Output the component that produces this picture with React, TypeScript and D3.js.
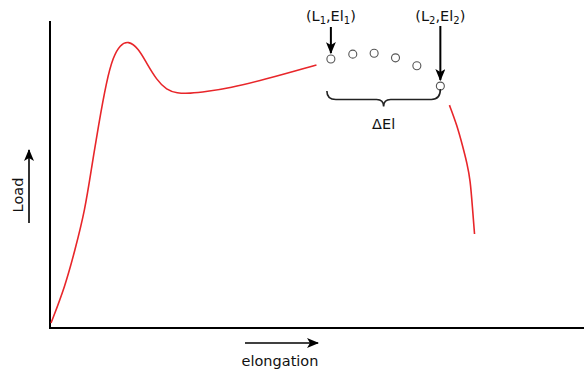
import React from "react";
import * as d3 from "d3";

const curveElong = [0.19, 0.19, 2.81, 4.68, 6.55, 7.81, 9.04, 10.62, 11.85, 13.11, 14.66, 16.54, 18.11, 19.98, 21.85, 23.73, 26.2, 29.3, 33.7, 39.9, 49.9, 49.9];
const curveLoad = [1.63, 1.63, 13.45, 25.4, 38.4, 52.5, 65.6, 80.8, 88.4, 92.2, 93.6, 91.1, 86.2, 80.8, 77.5, 76.5, 76.4, 77.0, 78.2, 80.8, 85.7, 85.7];
const pointElong = [52.6, 56.7, 60.7, 64.7, 68.7, 73.1];
const pointLoad = [87.6, 89.2, 89.5, 88.0, 85.4, 78.8];
const fallElong = [74.8, 74.8, 76.2, 77.3, 78.1, 78.7, 79.1, 79.5, 79.5];
const fallLoad = [72.6, 72.6, 66.1, 59.1, 53.6, 48.2, 39.5, 30.6, 30.6];

const W = 584, H = 371;
const x = d3.scaleLinear().domain([0, 100]).range([50, 584]);
const y = d3.scaleLinear().domain([0, 100]).range([328, 21]);

export default function App() {
  const lineGen = d3.line<[number, number]>().x(d => x(d[0])).y(d => y(d[1])).curve(d3.curveBasis);
  const main = lineGen(curveElong.map((e, i) => [e, curveLoad[i]]))!;
  const fall = lineGen(fallElong.map((e, i) => [e, fallLoad[i]]))!;
  const p1x = x(pointElong[0]);
  const p1y = y(pointLoad[0]);
  const p2x = x(pointElong[pointElong.length - 1]);
  const p2y = y(pointLoad[pointLoad.length - 1]);
  const bl = p1x - 4, br = p2x;
  const bm = (bl + br) / 2;
  const bt = 91, bb = 99.5, bn = 106.5;
  const brace = `M${bl},${bt} Q${bl},${bb} ${bl + 9},${bb} L${bm - 7},${bb} Q${bm},${bb} ${bm},${bn} Q${bm},${bb} ${bm + 7},${bb} L${br - 9},${bb} Q${br},${bb} ${br},${bt - 2}`;
  const font = "'DejaVu Sans', sans-serif";
  const fs = 14.5;
  return (
    <svg width={W} height={H} style={{ position: "absolute", left: 0, top: 0 }} fontFamily={font}>
      <defs>
        <marker id="ah" viewBox="0 0 12 10" refX="11" refY="5" markerWidth="12" markerHeight="10" markerUnits="userSpaceOnUse" orient="auto">
          <path d="M0,0 L12,5 L0,10 L3,5 Z" fill="#000" />
        </marker>
      </defs>
      <rect width={W} height={H} fill="#fff" />
      <line x1={x(0)} y1={y(100)} x2={x(0)} y2={y(0) + 1} stroke="#000" strokeWidth={2} />
      <line x1={x(0) - 1} y1={y(0)} x2={x(100)} y2={y(0)} stroke="#000" strokeWidth={2} />
      <path d={main} fill="none" stroke="#e8262a" strokeWidth={1.6} />
      <path d={fall} fill="none" stroke="#e8262a" strokeWidth={1.6} />
      {pointElong.map((e, i) => (
        <circle key={i} cx={x(e)} cy={y(pointLoad[i])} r={4} fill="#fff" stroke="#555" strokeWidth={1.1} />
      ))}
      <line x1={p1x} y1={27} x2={p1x} y2={p1y - 6} stroke="#000" strokeWidth={2} markerEnd="url(#ah)" />
      <line x1={p2x} y1={26} x2={p2x} y2={p2y - 6} stroke="#000" strokeWidth={2} markerEnd="url(#ah)" />
      <text x={p1x} y={21} textAnchor="middle" fontSize={fs} fill="#111">
        (L<tspan fontSize={10} dy={3}>1</tspan><tspan dy={-3}>,El</tspan><tspan fontSize={10} dy={3}>1</tspan><tspan dy={-3}>)</tspan>
      </text>
      <text x={p2x} y={21} textAnchor="middle" fontSize={fs} fill="#111">
        (L<tspan fontSize={10} dy={3}>2</tspan><tspan dy={-3}>,El</tspan><tspan fontSize={10} dy={3}>2</tspan><tspan dy={-3}>)</tspan>
      </text>
      <path d={brace} fill="none" stroke="#222" strokeWidth={1.6} />
      <text x={bm} y={129} textAnchor="middle" fontSize={fs} fill="#111">ΔEl</text>
      <line x1={29} y1={223} x2={29} y2={150} stroke="#000" strokeWidth={1.6} markerEnd="url(#ah)" />
      <text transform={`translate(23,195) rotate(-90)`} textAnchor="middle" fontSize={fs} fill="#111">Load</text>
      <line x1={245} y1={343} x2={318} y2={343} stroke="#000" strokeWidth={1.6} markerEnd="url(#ah)" />
      <text x={280} y={366} textAnchor="middle" fontSize={fs} fill="#111">elongation</text>
    </svg>
  );
}
